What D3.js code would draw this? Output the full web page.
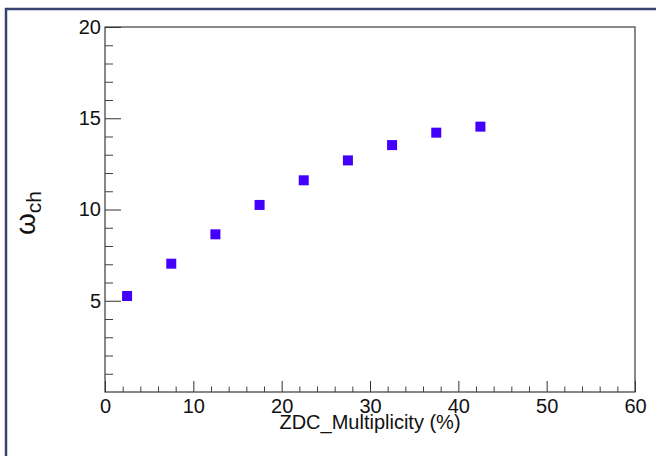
<!DOCTYPE html>
<html>
<head>
<meta charset="utf-8">
<script src="https://cdn.jsdelivr.net/npm/d3@7"></script>
<style>
  html, body { margin: 0; padding: 0; background: #fff; }
  svg { display: block; }
  .tick text { font-family: "Liberation Sans", Arial, Helvetica, sans-serif; }
</style>
</head>
<body>
<svg id="chart" width="656" height="456"></svg>
<script>
// Centrality bins (ZDC multiplicity, %) and measured omega_ch per bin
const binCenters = [2.5, 7.5, 12.5, 17.5, 22.5, 27.5, 32.5, 37.5, 42.5];
const omegaCh = [5.26, 7.03, 8.64, 10.25, 11.6, 12.69, 13.53, 14.21, 14.54];
const xMajorTicks = [0, 10, 20, 30, 40, 50, 60];
const yMajorTicks = [5, 10, 15, 20];

const svg = d3.select("#chart");
const W = 656, H = 456;
const frame = { left: 105, right: 635, top: 27, bottom: 392 };

const x = d3.scaleLinear().domain([0, 60]).range([frame.left, frame.right]);
const y = d3.scaleLinear().domain([0, 20]).range([frame.bottom, frame.top]);

// canvas border
svg.append("rect")
  .attr("x", 6).attr("y", 9)
  .attr("width", W + 20).attr("height", H + 20)
  .attr("fill", "none")
  .attr("stroke", "#3a4470")
  .attr("stroke-width", 2.5);

const font = '"Liberation Sans", Arial, Helvetica, sans-serif';

// minor ticks
const xMinor = d3.range(0, 61, 2).filter(v => v % 10 !== 0);
const yMinor = d3.range(0, 21, 1).filter(v => v % 5 !== 0);

svg.append("g")
  .attr("transform", `translate(0,${frame.bottom})`)
  .call(d3.axisBottom(x).tickValues(xMinor).tickSizeInner(-5.5).tickSizeOuter(0).tickFormat(""))
  .call(g => g.select(".domain").remove())
  .call(g => g.selectAll(".tick line").attr("stroke", "#444"));

svg.append("g")
  .attr("transform", `translate(${frame.left},0)`)
  .call(d3.axisLeft(y).tickValues(yMinor).tickSizeInner(-8).tickSizeOuter(0).tickFormat(""))
  .call(g => g.select(".domain").remove())
  .call(g => g.selectAll(".tick line").attr("stroke", "#444"));

// major ticks with labels
svg.append("g")
  .attr("transform", `translate(0,${frame.bottom})`)
  .call(d3.axisBottom(x).tickValues(xMajorTicks).tickSizeInner(-11).tickSizeOuter(0).tickPadding(6.5).tickFormat(d3.format("d")))
  .call(g => g.select(".domain").remove())
  .call(g => g.selectAll(".tick line").attr("stroke", "#333"))
  .call(g => g.selectAll(".tick text")
    .attr("font-size", 20).attr("fill", "#111")
    .attr("font-family", font));

svg.append("g")
  .attr("transform", `translate(${frame.left},0)`)
  .call(d3.axisLeft(y).tickValues(yMajorTicks).tickSizeInner(-16).tickSizeOuter(0).tickPadding(4).tickFormat(d3.format("d")))
  .call(g => g.select(".domain").remove())
  .call(g => g.selectAll(".tick line").attr("stroke", "#333"))
  .call(g => g.selectAll(".tick text")
    .attr("font-size", 20).attr("fill", "#111")
    .attr("font-family", font));

// plot frame
svg.append("rect")
  .attr("x", frame.left).attr("y", frame.top)
  .attr("width", frame.right - frame.left)
  .attr("height", frame.bottom - frame.top)
  .attr("fill", "none")
  .attr("stroke", "#3a3a3a")
  .attr("stroke-width", 1.2);

// axis titles
svg.append("text")
  .attr("x", (frame.left + frame.right) / 2)
  .attr("y", 429)
  .attr("text-anchor", "middle")
  .attr("font-family", font)
  .attr("font-size", 20)
  .attr("fill", "#111")
  .text("ZDC_Multiplicity (%)");

const yTitle = svg.append("text")
  .attr("transform", `translate(35,213) rotate(-90)`)
  .attr("text-anchor", "middle")
  .attr("font-family", font)
  .attr("fill", "#111");
yTitle.append("tspan").attr("font-size", 28).text("ω");
yTitle.append("tspan").attr("font-size", 21).attr("dy", 6).text("ch");

// data markers
const ms = 10;
svg.append("g")
  .selectAll("rect")
  .data(binCenters.map((c, i) => ({ c, v: omegaCh[i] })))
  .join("rect")
  .attr("x", d => x(d.c) - ms / 2)
  .attr("y", d => y(d.v) - ms / 2)
  .attr("width", ms).attr("height", ms)
  .attr("fill", "#4400ff");
</script>
</body>
</html>
